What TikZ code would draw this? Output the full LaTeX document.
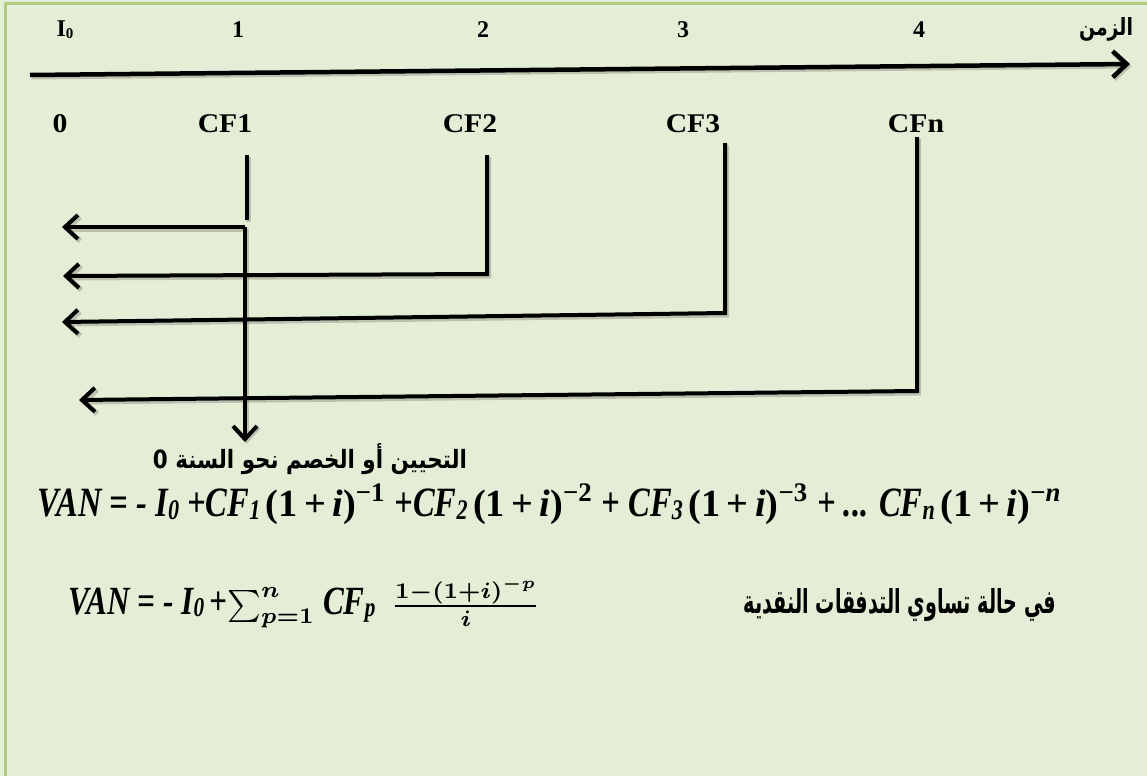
\documentclass[tikz,border=0pt]{standalone}
\usepackage{fontspec}
\setmainfont{Liberation Serif}
\newfontfamily\lblfont{Liberation Serif}[FakeStretch=1.1]
\newfontfamily\condfont{Liberation Serif}[FakeStretch=0.78]
\newfontfamily\arabicfont[Script=Arabic]{DejaVu Sans}
\TeXXeTstate=1
\usetikzlibrary{arrows.meta}
\definecolor{bgc}{RGB}{228,237,214}
\definecolor{brd}{RGB}{176,203,128}
\newcommand{\ct}[1]{{\fontsize{12.5}{14}\condfont\bfseries\itshape #1}}
\newcommand{\csub}[1]{\raisebox{-0.2ex}{\fontsize{8.5}{10}\condfont\bfseries\itshape #1}}
\newcommand{\pw}[1]{{\fontsize{11.5}{13}\selectfont\bfseries(1\,+\,\textit{i})\textsuperscript{−#1}}}
\tikzset{
  toplbl/.style={font=\bfseries\fontsize{24}{27}\selectfont, inner sep=0pt},
  lbl/.style={font=\lblfont\bfseries\fontsize{27}{30}\selectfont, inner sep=0pt},
  shadowed/.style={preaction={draw, black, opacity=0.18, line width=5pt,
      transform canvas={shift={(1.5pt,-2pt)}}}},
  ln/.style={line width=4pt, black, shadowed},
  arr/.style={line width=4pt, black, -{Straight Barb[length=13pt,width=24pt]}, shadowed},
}
\begin{document}
\begin{tikzpicture}[x=1pt,y=-1pt]
  \useasboundingbox (0,0) rectangle (1147,776);
  \fill[bgc] (0,0) rectangle (1147,776);
  \draw[brd, line width=3pt] (5,776) -- (5,4) -- (1147,4);

  % time axis
  \coordinate (ax0) at (30,75);
  \coordinate (ax1) at (1130,64);
  \draw[line width=4.5pt, black, -{Straight Barb[length=14pt,width=26pt]}, shadowed] (ax0) -- (ax1);

  % top labels
  \node[toplbl] (tI) at (65,30) {I\raisebox{-0.15ex}{\fontsize{15}{16}\selectfont 0}};
  \node[toplbl] (t1) at (238,30) {1};
  \node[toplbl] (t2) at (483,30) {2};
  \node[toplbl] (t3) at (683,30) {3};
  \node[toplbl] (t4) at (919,30) {4};
  \node[inner sep=0pt, anchor=base] (tz) at (1106,36)
    {\resizebox{54pt}{18pt}{\arabicfont\bfseries\beginR الزمن\endR}};

  % bottom labels
  \node[lbl] (c0) at (60,124) {0};
  \node[lbl] (cf1) at (225,124) {CF1};
  \node[lbl] (cf2) at (470,124) {CF2};
  \node[lbl] (cf3) at (693,124) {CF3};
  \node[lbl] (cfn) at (916,124) {CFn};

  % coordinates for the discounting lines
  \coordinate (k1a) at (247,155);
  \coordinate (k1b) at (247,220);
  \coordinate (c1) at (245,227);
  \coordinate (a1) at (62,227);
  \coordinate (d1) at (245,442);

  \coordinate (k2a) at (487,155);
  \coordinate (k2b) at (487,274);
  \coordinate (a2) at (63,276);

  \coordinate (k3a) at (725,143);
  \coordinate (k3b) at (725,313);
  \coordinate (a3) at (62,322);

  \coordinate (k4a) at (917,137);
  \coordinate (k4b) at (917,391);
  \coordinate (a4) at (79,400);

  \draw[ln] (k1a) -- (k1b);
  \draw[arr] (c1) -- (a1);
  \draw[arr] (c1) -- (d1);
  \draw[arr] (k2a) -- (k2b) -- (a2);
  \draw[arr] (k3a) -- (k3b) -- (a3);
  \draw[arr] (k4a) -- (k4b) -- (a4);

  \node[inner sep=0pt, anchor=base] (disc) at (310,468)
    {\resizebox{314pt}{25pt}{\arabicfont\bfseries\beginR التحيين أو الخصم نحو السنة 0\endR}};

  % equation 1
  \node[inner sep=0pt, anchor=base west] (eq1) at (37,516)
    {\resizebox{1025pt}{!}{\ct{VAN = - I}\csub{0} \ct{+CF}\csub{1}\,\pw{1} \ct{+CF}\csub{2}\,\pw{2} \ct{+ CF}\csub{3}\,\pw{3} \ct{+ ... CF}\csub{n}\,\pw{\textit{n}}}};

  % equation 2
  \node[inner sep=0pt, anchor=base west] (eq2) at (68,614)
    {\resizebox{472pt}{!}{\boldmath\ct{VAN = - I}\csub{0}\,\ct{+}$\sum_{p=1}^{n}$ \ct{CF}\csub{p}\ \ $\frac{1-(1+i)^{-p}}{i}$}};

  \node[inner sep=0pt, anchor=base] (equal) at (900,613)
    {\resizebox{312pt}{25pt}{\arabicfont\bfseries\beginR في حالة تساوي التدفقات النقدية\endR}};
\end{tikzpicture}
\end{document}
